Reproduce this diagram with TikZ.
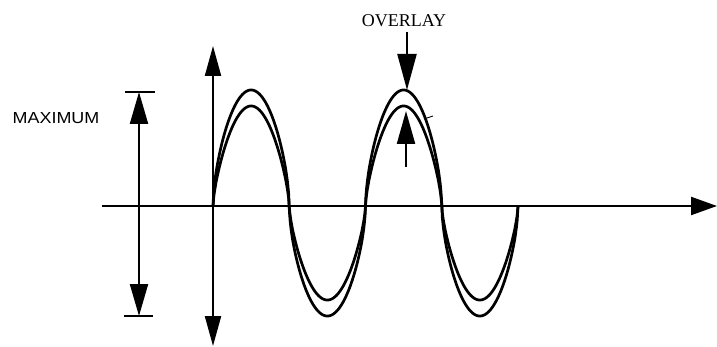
\documentclass[tikz,border=0pt]{standalone}
\usepackage{fontspec}
\setmainfont{Liberation Serif}
\newfontfamily\labsans{Liberation Sans}
\usetikzlibrary{arrows.meta}
\begin{document}
\begin{tikzpicture}[x=1pt,y=-1pt,
  axisline/.style={line width=2.2pt},
  wave/.style={line width=2.7pt, line join=round},
  dimtip/.style={{Triangle[length=32pt,width=18pt]}-{Triangle[length=32pt,width=18pt]}},
  overtip/.style={-{Triangle[length=36pt,width=19pt]}}]
\useasboundingbox (0,0) rectangle (717,347);
% axes
\coordinate (hl) at (102,206);
\coordinate (hr) at (717,206);
\draw[axisline, -{Triangle[length=26pt,width=18pt]}] (hl) -- (hr);
\coordinate (vt) at (213,46);
\coordinate (vb) at (213,346);
\draw[axisline, {Triangle[length=30pt,width=16pt]}-{Triangle[length=30pt,width=16pt]}] (vb) -- (vt);
% waves
\draw[wave] plot[domain=0:305, samples=400] ({213+\x}, {206 - (sin(\x*2.360656)>0 ? 116 : -110)*pow(abs(sin(\x*2.360656))+0.00001,0.6)});
\draw[wave] plot[domain=0:305, samples=400] ({213+\x}, {206 - (sin(\x*2.360656)>0 ? 100 : -94)*pow(abs(sin(\x*2.360656))+0.00001,0.7)});
% dimension
\coordinate (dt) at (139,92);
\coordinate (db) at (139,316);
\draw[line width=2.2pt] (125,92) -- (155,92);
\draw[line width=2.2pt] (124,316) -- (153,316);
\draw[line width=2.2pt, dimtip] (db) -- (dt);
\node[font=\labsans\fontsize{16}{18}\selectfont, inner sep=0pt, xscale=1.12] (max) at (56,118) {MAXIMUM};
% overlay
\node[font=\fontsize{18}{20}\selectfont, inner sep=0pt] (ov) at (404,21) {OVERLAY};
\coordinate (o1s) at (407,32);
\coordinate (o1e) at (407,90);
\draw[line width=2.2pt, overtip] (o1s) -- (o1e);
\coordinate (o2s) at (406,167);
\coordinate (o2e) at (406,111);
\draw[line width=2.2pt, -{Triangle[length=33pt,width=18pt]}] (o2s) -- (o2e);
\draw[line width=0.8pt] (424,119) -- (433,116);
\end{tikzpicture}
\end{document}
